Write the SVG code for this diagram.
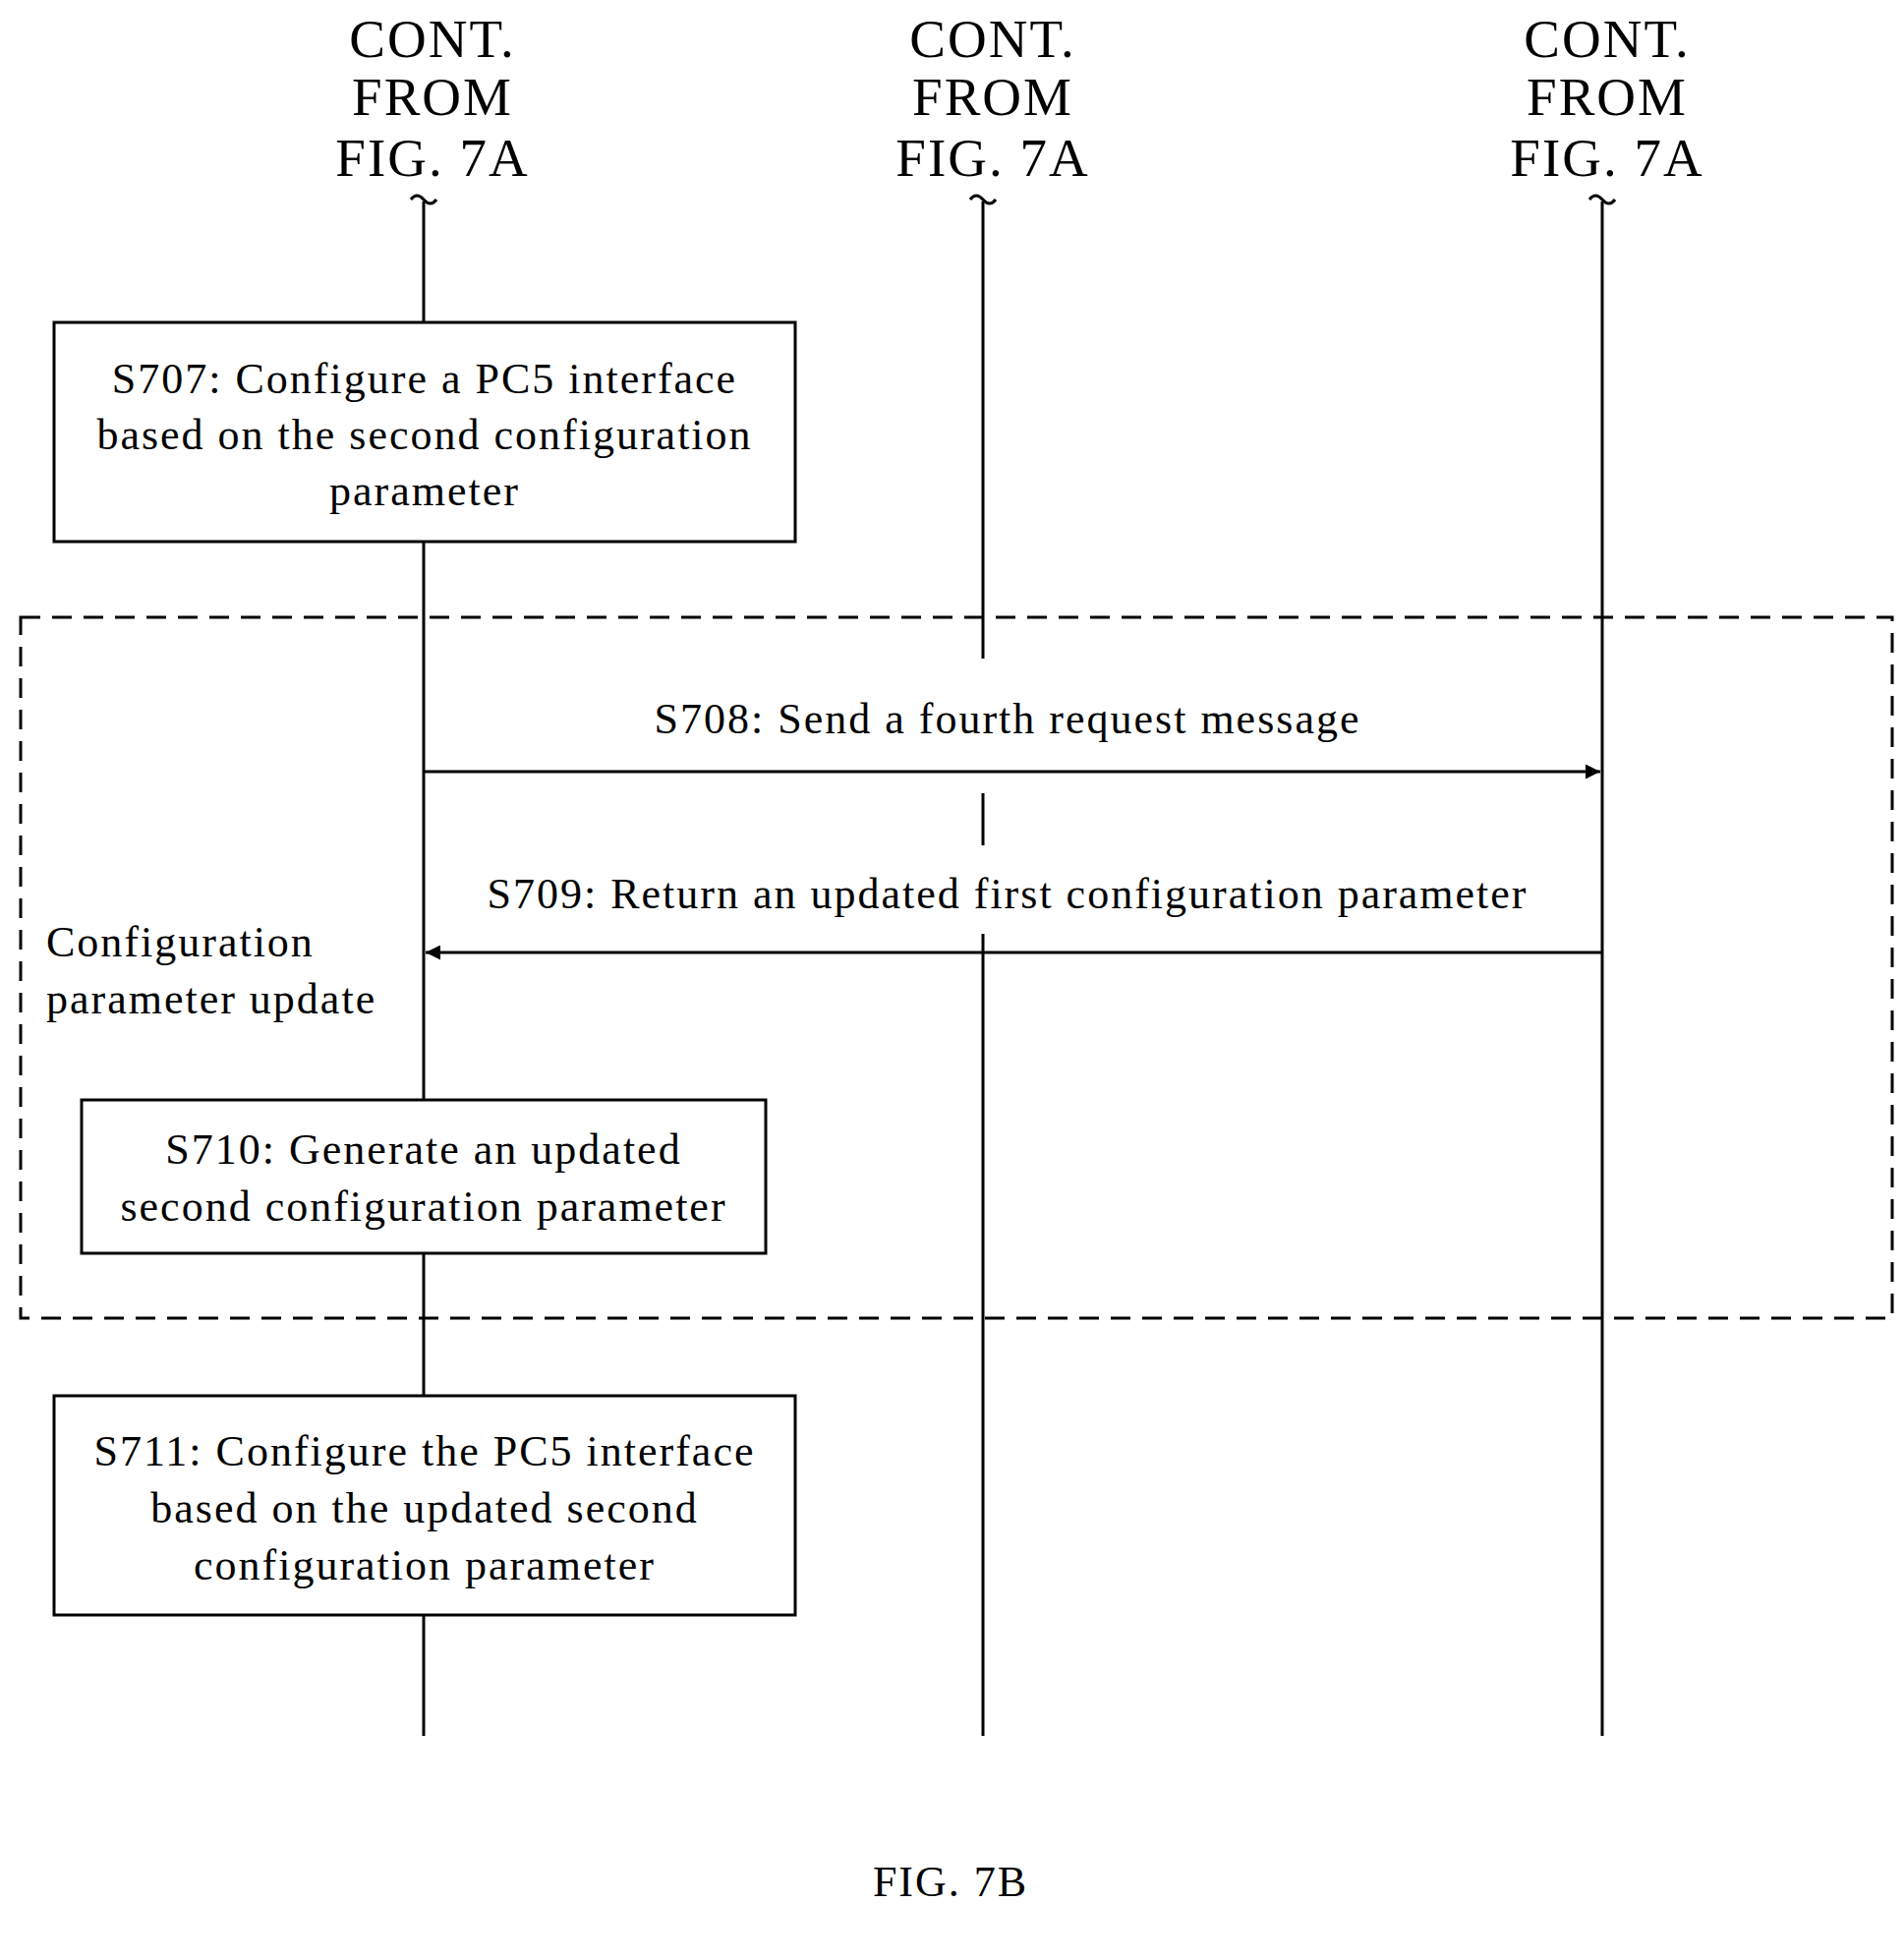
<svg xmlns="http://www.w3.org/2000/svg" width="1937" height="1994" viewBox="0 0 1937 1994">
<defs>
<style>
text{font-family:"Liberation Serif",serif;fill:#000}
.h{font-size:55px;text-anchor:middle;letter-spacing:2px}
.t{font-size:44px;text-anchor:middle;letter-spacing:2px}
.l{fill:none;stroke:#000;stroke-width:3}
.b{fill:#fff;stroke:#000;stroke-width:3}
</style>
<marker id="a" viewBox="0 0 10 10" refX="10" refY="5" markerWidth="5" markerHeight="5" orient="auto"><path d="M0,0L10,5L0,10z"/></marker>
</defs>
<rect width="1937" height="1994" fill="#fff"/>
<g id="headers">
<text class="h" x="440" y="58">CONT.</text><text class="h" x="440" y="117">FROM</text><text class="h" x="440" y="179">FIG. 7A</text>
<text class="h" x="1010" y="58">CONT.</text><text class="h" x="1010" y="117">FROM</text><text class="h" x="1010" y="179">FIG. 7A</text>
<text class="h" x="1635" y="58">CONT.</text><text class="h" x="1635" y="117">FROM</text><text class="h" x="1635" y="179">FIG. 7A</text>
<path class="l" d="M418,203q6,-8 13,0t13,0M987,203q6,-8 13,0t13,0M1617,203q6,-8 13,0t13,0"/>
</g>
<g id="lifelines">
<path class="l" d="M431,205V1766M1000,205V670M1000,807V860M1000,950V1766M1630,205V1766"/>
</g>
<g id="group">
<rect x="21" y="628" width="1904" height="713" fill="none" stroke="#000" stroke-width="3" stroke-dasharray="20,12"/>
<text x="47" y="973" font-size="44" letter-spacing="2">Configuration</text>
<text x="47" y="1031" font-size="44" letter-spacing="2">parameter update</text>
</g>
<g id="s707"><rect class="b" x="55" y="328" width="754" height="223"/>
<text class="t" x="432" y="400">S707: Configure a PC5 interface</text>
<text class="t" x="432" y="457">based on the second configuration</text>
<text class="t" x="432" y="514">parameter</text></g>
<g id="s710"><rect class="b" x="83" y="1119" width="696" height="156"/>
<text class="t" x="431" y="1184">S710: Generate an updated</text>
<text class="t" x="431" y="1242">second configuration parameter</text></g>
<g id="s711"><rect class="b" x="55" y="1420" width="754" height="223"/>
<text class="t" x="432" y="1491">S711: Configure the PC5 interface</text>
<text class="t" x="432" y="1549">based on the updated second</text>
<text class="t" x="432" y="1607">configuration parameter</text></g>
<g id="connectors">
<path class="l" d="M431,785H1628" marker-end="url(#a)"/>
<path class="l" d="M1630,969H433" marker-end="url(#a)"/>
<text class="t" x="1025" y="746">S708: Send a fourth request message</text>
<text class="t" x="1025" y="924">S709: Return an updated first configuration parameter</text>
</g>
<text class="t" x="967" y="1929">FIG. 7B</text>
</svg>
